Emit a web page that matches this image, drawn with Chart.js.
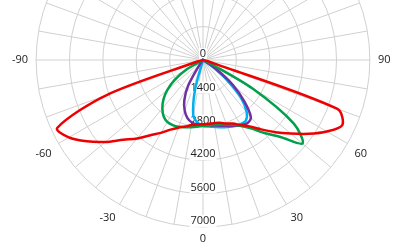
<!DOCTYPE html>
<html>
<head>
<meta charset="utf-8">
<script src="https://cdn.jsdelivr.net/npm/chart.js@4"></script>
<style>
  html, body { margin: 0; padding: 0; background: #fff; overflow: hidden; }
  #wrap { position: absolute; left: 0; top: -140px; width: 400px; height: 400px; }
</style>
</head>
<body>
<div id="wrap"><canvas id="polar-chart"></canvas></div>
<script>
// gamma angles of the C-plane, -90 .. 90 in 5 degree steps
const gammaAngles = [-90,-85,-80,-75,-70,-65,-60,-55,-50,-45,-40,-35,-30,-25,-20,-15,-10,-5,0,
                     5,10,15,20,25,30,35,40,45,50,55,60,65,70,75,80,85,90];

const redValues = [0,0,30,250,4300,6750,6500,5950,5350,4730,4300,3850,3530,3220,3020,2890,2770,2720,2700,
                   2680,2690,2730,2830,2940,3150,3400,3800,4280,4800,5400,6000,6450,6000,300,30,0,0];
const greenValues = [0,0,0,0,0,0,800,1450,1950,2350,2650,2880,3000,3010,2980,2920,2860,2810,2770,
                     2760,2770,2800,2880,3000,3200,3500,4000,4550,5450,4650,2400,300,0,0,0,0,0];
const purpleValues = [0,0,0,0,0,0,0,0,0,0,0,300,1250,1850,2250,2520,2660,2710,2730,
                      2750,2790,2850,2940,3050,3160,3240,3120,2450,1650,750,80,0,0,0,0,0,0];
const cyanValues = [0,0,0,0,0,0,0,0,0,0,0,0,0,0,0,1300,2350,2640,2760,
                    2800,2850,2920,2990,3060,3110,3120,2850,2250,1300,450,0,0,0,0,0,0,0];

const tickValues = [0, 1400, 2800, 4200, 5600, 7000];
const gridColor = '#d0d0d0';

// radar goes clockwise from the bottom: left side is negative gamma
const angleLabels = [];
for (let i = 0; i < 72; i++) {
  angleLabels.push(String(i <= 36 ? -5 * i : 360 - 5 * i));
}

function toRadar(values) {
  return angleLabels.map(l => {
    const k = gammaAngles.indexOf(Number(l));
    return k >= 0 ? values[k] : 0;
  });
}

const tickLabels = {
  id: 'tickLabels',
  beforeDatasetsDraw(chart) {
    const scale = chart.scales.r;
    const ctx = chart.ctx;
    ctx.save();
    ctx.font = '11px "Open Sans"';
    ctx.textAlign = 'center';
    ctx.textBaseline = 'middle';
    tickValues.forEach(v => {
      const p = scale.getPointPositionForValue(0, v);
      const txt = String(v);
      const w = ctx.measureText(txt).width;
      const y = p.y - 6;
      ctx.fillStyle = '#fff';
      ctx.fillRect(p.x - w / 2 - 1, y - 6, w + 2, 12);
      ctx.fillStyle = '#222';
      ctx.fillText(txt, p.x, y);
    });
    ctx.restore();
  }
};

function line(values, color) {
  return {
    data: toRadar(values),
    borderColor: color,
    borderWidth: 2.5,
    pointRadius: 0,
    fill: false,
    tension: 0.3
  };
}

new Chart(document.getElementById('polar-chart'), {
  type: 'radar',
  data: {
    labels: angleLabels,
    datasets: [
      line(redValues, '#ee0000'),
      line(greenValues, '#00a04a'),
      line(purpleValues, '#7030a0'),
      line(cyanValues, '#00b0f0')
    ]
  },
  options: {
    responsive: true,
    maintainAspectRatio: false,
    animation: false,
    events: [],
    layout: { padding: { left: 10, right: 7 } },
    plugins: { legend: { display: false }, tooltip: { enabled: false } },
    scales: {
      r: {
        startAngle: 180,
        min: 0,
        max: 7000,
        ticks: { stepSize: 1400, display: false },
        grid: { circular: true, color: gridColor, lineWidth: 1 },
        angleLines: {
          color: (c) => (c.index % 2 === 0 ? gridColor : 'transparent'),
          lineWidth: 1
        },
        pointLabels: {
          padding: (c) => (c.index === 0 ? 5 : 8),
          color: '#222',
          font: { family: 'Open Sans', size: 11 },
          callback: (label) => (Number(label) % 30 === 0 ? label : '')
        }
      }
    }
  },
  plugins: [tickLabels]
});
</script>
</body>
</html>
